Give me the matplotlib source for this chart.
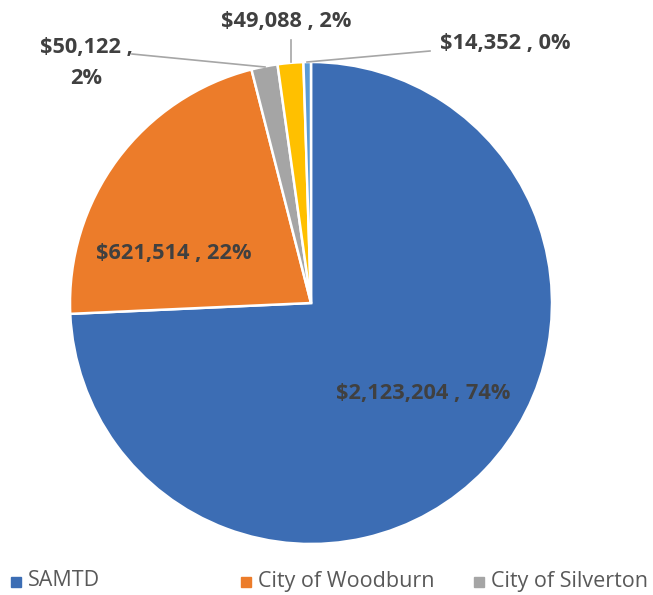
import matplotlib
matplotlib.use("Agg")
import matplotlib.pyplot as plt
from matplotlib.patches import Rectangle

# Funding by agency
agencies = ["SAMTD", "City of Woodburn", "City of Silverton", "Other A", "Other B"]
amounts = [2123204, 621514, 50122, 49088, 14352]
percents = [74, 22, 2, 2, 0]
colors = ["#3C6DB4", "#EC7C2A", "#A5A5A5", "#FFC000", "#5B9BD5"]
legend_shown = ["SAMTD", "City of Woodburn", "City of Silverton"]

plt.rcParams['font.family'] = ['Open Sans', 'DejaVu Sans']

fig = plt.figure(figsize=(6.53, 5.95), dpi=100)
ax = fig.add_axes([0, 0, 1, 1])

H = 595
cx, cy, r = 311, H - 303, 241
ax.pie(amounts, colors=colors, startangle=90, counterclock=False,
       center=(cx, cy), radius=r, frame=True,
       wedgeprops=dict(edgecolor='white', linewidth=1.8))
ax.set_xlim(0, 653)
ax.set_ylim(0, 595)
ax.axis('off')

labels = [f"${v:,} , {p}%" for v, p in zip(amounts, percents)]
labels[2] = labels[2].replace(" , ", " ,\n")

# label positions in pixel coords (x, y from top)
label_pos = [(423, 393), (174, 253), (86, 63), (286, 21), (505, 43)]
for lab, (x, y) in zip(labels, label_pos):
    ax.text(x, H - y, lab, ha='center', va='center', fontsize=15.7,
            fontweight='bold', color='#404040', linespacing=1.65)

# leader lines
leaders = [
    [(132, 54), (265, 67)],
    [(291, 40), (291, 62)],
    [(430, 51), (307, 62)],
]
for (x1, y1), (x2, y2) in leaders:
    ax.plot([x1, x2], [H - y1, H - y2], color='#A6A6A6', lw=1.2)

# legend
leg_x = [11, 241, 474]
for name, x, c in zip(legend_shown, leg_x, colors):
    ax.add_patch(Rectangle((x, H - 587), 10, 10, color=c))
    ax.text(x + 17, H - 581, name, ha='left', va='center', fontsize=15.5,
            color='#595959')

fig.savefig("out.png", dpi=100)
